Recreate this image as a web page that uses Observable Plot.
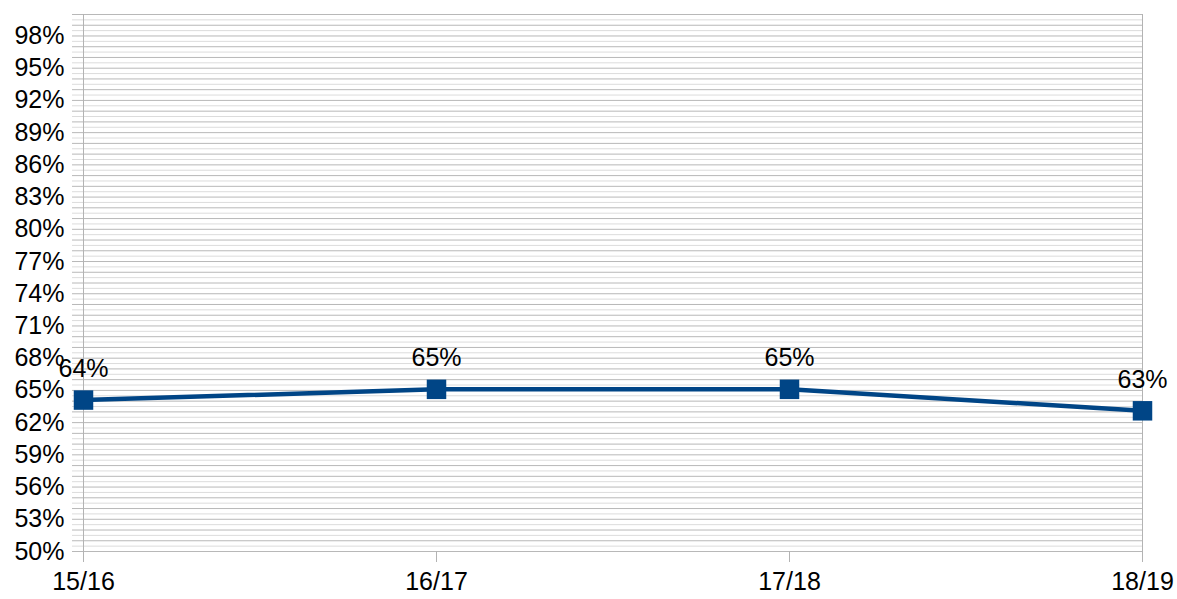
<!DOCTYPE html>
<html>
<head>
<meta charset="utf-8">
<script src="https://cdn.jsdelivr.net/npm/d3@7"></script>
<script src="https://cdn.jsdelivr.net/npm/@observablehq/plot@0.6"></script>
<style>
  html, body { margin: 0; padding: 0; background: #fff; }
  svg { display: block; }
</style>
</head>
<body>
<div id="chart"></div>
<script>
const years = ["15/16", "16/17", "17/18", "18/19"];
const values = [0.641, 0.651, 0.651, 0.631];
const labels = ["64%", "65%", "65%", "63%"];
const yTicks = [0.50, 0.53, 0.56, 0.59, 0.62, 0.65, 0.68, 0.71, 0.74, 0.77, 0.80, 0.83, 0.86, 0.89, 0.92, 0.95, 0.98];

const data = years.map((y, i) => ({year: y, value: values[i], label: labels[i]}));
const gridMajor = d3.range(0, 51).map(i => (50 + i) / 100);
const gridMinor = d3.range(0, 50).map(i => (50.5 + i) / 100);

const chart = Plot.plot({
  width: 1177,
  height: 599,
  marginLeft: 83,
  marginRight: 35,
  marginTop: 14,
  marginBottom: 48,
  style: {fontFamily: "'Liberation Sans', Arial, sans-serif", fontSize: "25px", color: "#000", background: "#fff"},
  x: {type: "point", domain: years, padding: 0, label: null},
  y: {domain: [0.5, 1.0], label: null},
  marks: [
    Plot.ruleY(gridMinor, {stroke: "#dcdcdc", strokeWidth: 1}),
    Plot.ruleY(gridMajor, {stroke: "#b8b8b8", strokeWidth: 1}),
    Plot.axisY({ticks: gridMinor, tickSize: 11, stroke: "#dcdcdc", strokeOpacity: 1, tickFormat: () => "", label: null}),
    Plot.axisY({ticks: gridMajor, tickSize: 11, stroke: "#b8b8b8", strokeOpacity: 1, tickFormat: () => "", label: null}),
    Plot.axisY({ticks: yTicks, tickSize: 0, tickPadding: 19, tickFormat: d => Math.round(d * 100) + "%", fontSize: 25, fill: "#000", label: null}),
    Plot.ruleX([years[0], years[3]], {y1: 0.5, y2: 1.0, stroke: "#b3b3b3", strokeWidth: 1}),
    Plot.axisX({ticks: years, tickSize: 11, stroke: "#b3b3b3", strokeOpacity: 1, tickPadding: 10, fontSize: 25, fill: "#000", label: null}),
    Plot.line(data, {x: "year", y: "value", stroke: "#004586", strokeWidth: 4.5}),
    Plot.dot(data, {x: "year", y: "value", symbol: "square", r: 11, fill: "#004586", stroke: "none"}),
    Plot.text(data, {x: "year", y: "value", text: "label", dy: -31, fontSize: 25, fill: "#000"})
  ]
});
document.getElementById("chart").appendChild(chart);
</script>
</body>
</html>
